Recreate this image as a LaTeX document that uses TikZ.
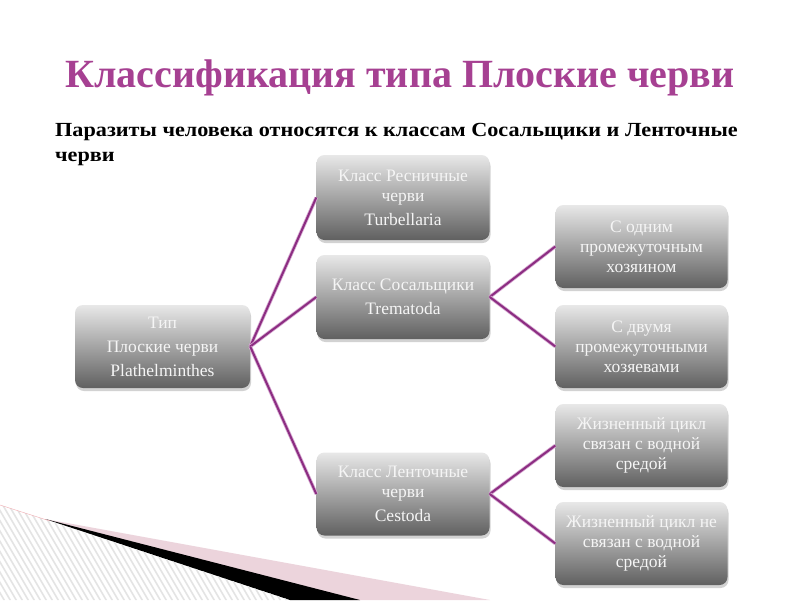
\documentclass[tikz,border=0pt]{standalone}
\usepackage{fontspec}
\setmainfont{Liberation Serif}
\usetikzlibrary{shadows}
\definecolor{titlec}{RGB}{166,64,146}
\definecolor{linec}{RGB}{140,45,130}
\definecolor{lineh}{RGB}{215,170,210}
\definecolor{boxtop}{RGB}{232,232,232}
\definecolor{boxbot}{RGB}{96,96,96}
\definecolor{boxtxt}{RGB}{245,245,245}
\definecolor{pinkc}{RGB}{236,212,220}
\definecolor{hatchc}{RGB}{228,228,228}
\tikzset{
  gbox/.style={rectangle, rounded corners=8pt, top color=boxtop, bottom color=boxbot,
    draw=none, minimum width=173pt, minimum height=84pt, align=center,
    text=boxtxt, font=\fontsize{17.5}{20}\selectfont, inner sep=1pt,
    drop shadow={shadow xshift=1pt, shadow yshift=-3pt, opacity=0.35}},
  conn/.style={draw=linec, line width=2pt, preaction={draw=lineh, line width=3.6pt}},
  subt/.style={anchor=base west, inner sep=0pt, font=\fontsize{20}{23}\selectfont\bfseries}
}
\begin{document}
\begin{tikzpicture}[x=1pt,y=-1pt]
\useasboundingbox (0,0) rectangle (800,600);
\fill[white] (0,0) rectangle (800,600);
% bottom-left decoration
\fill[pinkc] (45,519) -- (490,600) -- (350,600) -- cycle;
\fill[black] (45,519) -- (360,600) -- (290,600) -- cycle;
\begin{scope}
\clip (0,505) -- (50,521) -- (290,600) -- (0,600) -- cycle;
\foreach \i in {-120,-114,...,300} \draw[hatchc, line width=1.6pt] (\i,490) -- ++(70,120);
\end{scope}
\draw[pinkc!80!red, line width=0.4pt] (0,505) -- (50,521);
% title
\node[anchor=base, text=titlec, font=\fontsize{40}{42}\selectfont\bfseries, inner sep=0pt] (title) at (400,87) {Классификация типа Плоские черви};
\node[subt] (sub1) at (55,136) {\scalebox{1.11}[1]{Паразиты человека относятся к классам Сосальщики и Ленточные}};
\node[subt] (sub2) at (55,161) {\scalebox{1.11}[1]{черви}};
% boxes
\node[gbox, minimum width=175pt, minimum height=83pt] (root) at (162.5,346.5) {Тип\\[4pt]Плоские черви\\[4pt]Plathelminthes};
\node[gbox, minimum height=85pt] (turb) at (403,197.5) {Класс Ресничные\\черви\\[4pt]Turbellaria};
\node[gbox] (trem) at (403,297) {Класс Сосальщики\\[4pt]Trematoda};
\node[gbox, minimum height=83pt] (cest) at (403,494) {Класс Ленточные\\черви\\[4pt]Cestoda};
\node[gbox, minimum width=172pt, minimum height=83pt] (r1) at (641.5,246.5) {С одним\\промежуточным\\хозяином};
\node[gbox, minimum width=172pt, minimum height=83pt] (r2) at (641.5,346.5) {С двумя\\промежуточными\\хозяевами};
\node[gbox, minimum width=172pt, minimum height=83pt] (r3) at (641.5,445.5) {Жизненный цикл\\связан с водной\\средой};
\node[gbox, minimum width=172pt, minimum height=83pt] (r4) at (641.5,543.5) {Жизненный цикл не\\связан с водной\\средой};
% connectors
\draw[conn] (root.east) -- (turb.west);
\draw[conn] (root.east) -- (trem.west);
\draw[conn] (root.east) -- (cest.west);
\draw[conn] (trem.east) -- (r1.west);
\draw[conn] (trem.east) -- (r2.west);
\draw[conn] (cest.east) -- (r3.west);
\draw[conn] (cest.east) -- (r4.west);
\end{tikzpicture}
\end{document}
